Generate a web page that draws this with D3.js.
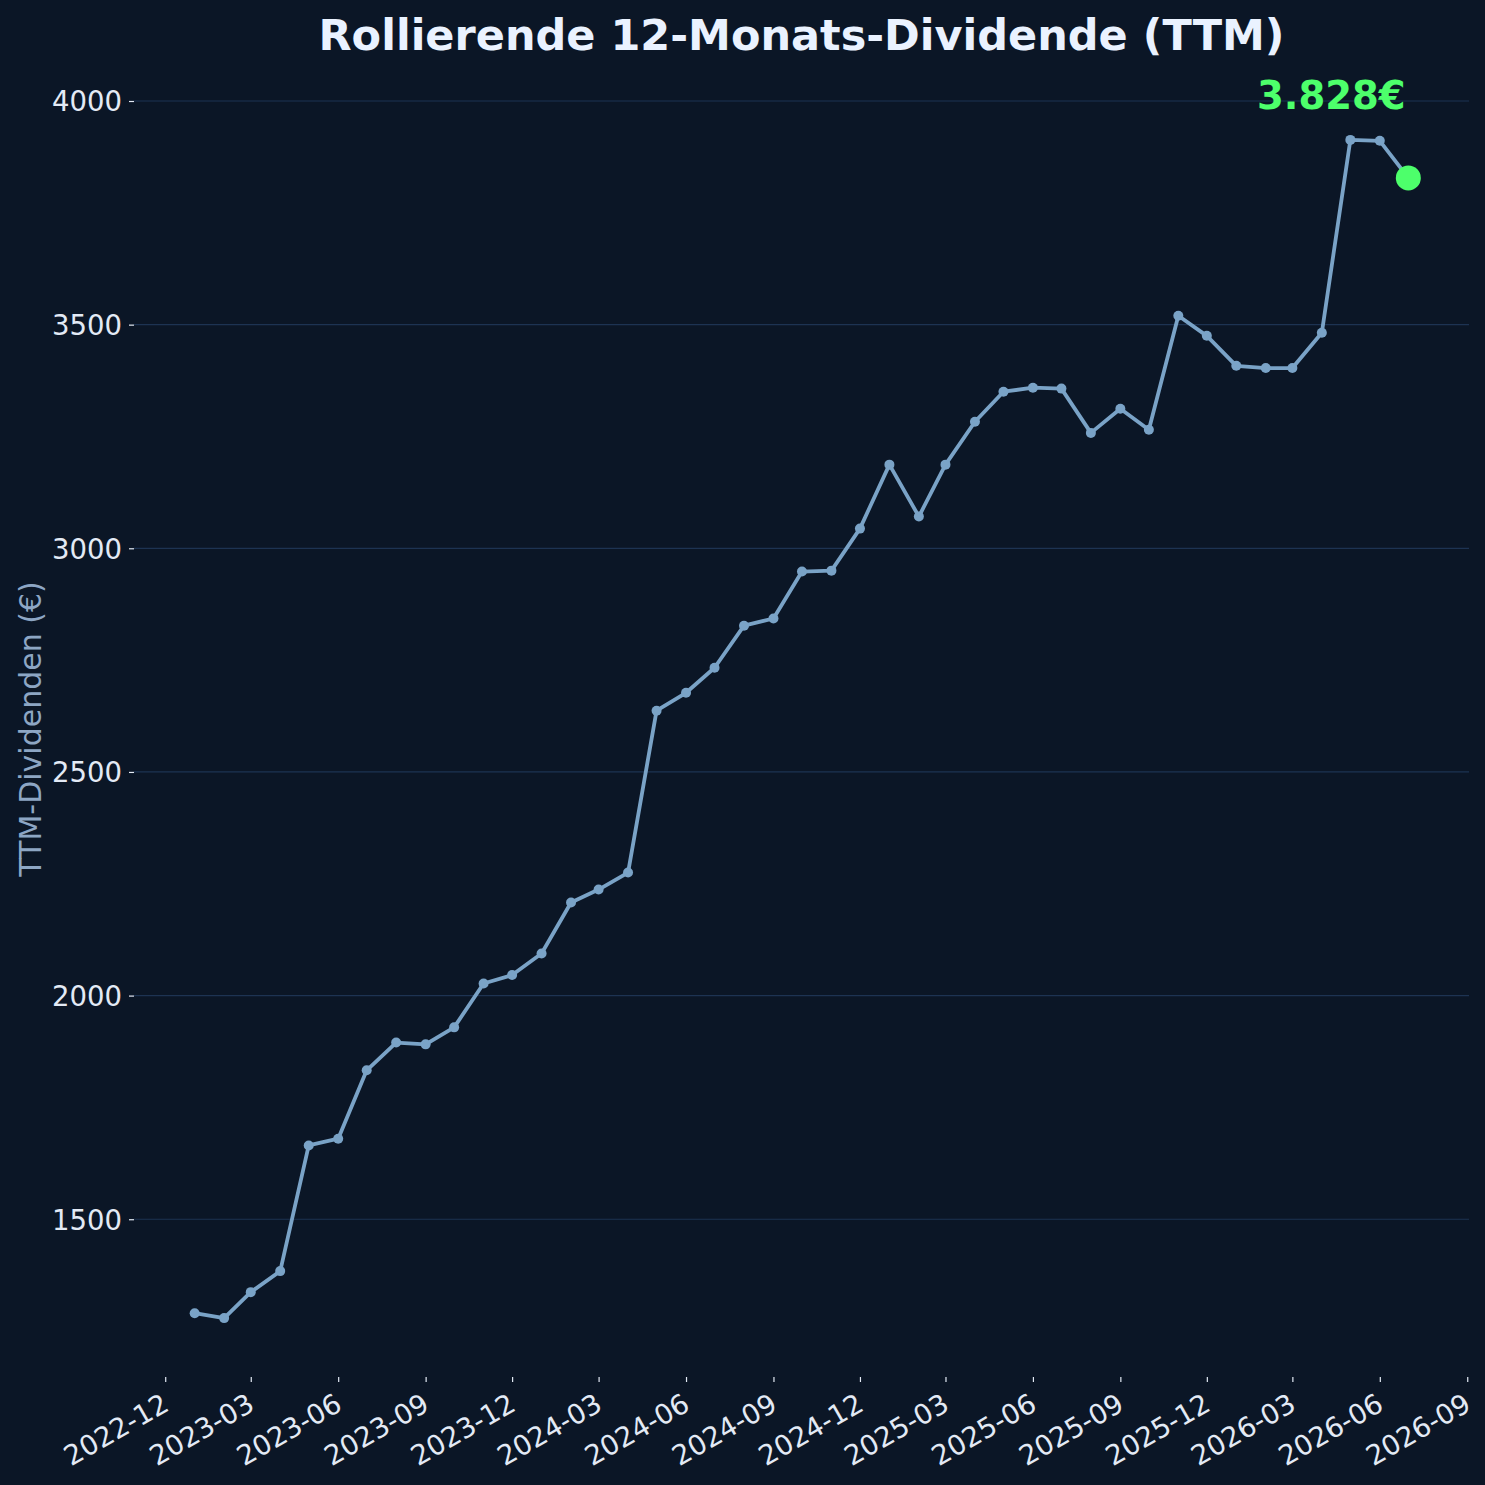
<!DOCTYPE html>
<html>
<head>
<meta charset="utf-8">
<script src="https://cdn.jsdelivr.net/npm/d3@7"></script>
<style>
    html, body { margin: 0; padding: 0; background: #0b1626; }
    svg { display: block; font-family: "DejaVu Sans", sans-serif; }
</style>
</head>
<body>
<div class="ttmChart"></div>
<script>
// Monthly TTM dividend values
const months = [
    '2023-01', '2023-02', '2023-03', '2023-04', '2023-05', '2023-06',
    '2023-07', '2023-08', '2023-09', '2023-10', '2023-11', '2023-12',
    '2024-01', '2024-02', '2024-03', '2024-04', '2024-05', '2024-06',
    '2024-07', '2024-08', '2024-09', '2024-10', '2024-11', '2024-12',
    '2025-01', '2025-02', '2025-03', '2025-04', '2025-05', '2025-06',
    '2025-07', '2025-08', '2025-09', '2025-10', '2025-11', '2025-12',
    '2026-01', '2026-02', '2026-03', '2026-04', '2026-05', '2026-06',
    '2026-07'
];
const ttmValues = [
    1290, 1279, 1337, 1384, 1665, 1680, 1833, 1895, 1891, 1929, 2027, 2046,
    2094, 2208, 2237, 2275, 2637, 2677, 2733, 2827, 2843, 2948, 2950, 3044,
    3187, 3071, 3187, 3283, 3350, 3359, 3357, 3258, 3312, 3265, 3520, 3475,
    3408, 3403, 3403, 3482, 3913, 3911, 3828
];
const yTicks = [1500, 2000, 2500, 3000, 3500, 4000];
const xTickLabels = [
    '2022-12', '2023-03', '2023-06', '2023-09', '2023-12', '2024-03', '2024-06',
    '2024-09', '2024-12', '2025-03', '2025-06', '2025-09', '2025-12', '2026-03',
    '2026-06', '2026-09'
];
const chartTitle = 'Rollierende 12-Monats-Dividende (TTM)';
const yLabel = 'TTM-Dividenden (€)';

function ttmChart(selector, w, h) {
    // Plot constants
    const margin = {top: 81, right: 16, bottom: 108, left: 134},
        width = w - margin.left - margin.right,
        height = h - margin.top - margin.bottom;
    const font = '"DejaVu Sans", sans-serif';

    const parseMonth = d3.timeParse('%Y-%m');
    const data = months.map((m, i) => ({date: parseMonth(m), value: ttmValues[i]}));

    // Matplotlib style 5% padding
    const [d0, d1] = d3.extent(data, d => d.date);
    const dPad = (d1 - d0) * 0.05;
    const [v0, v1] = d3.extent(data, d => d.value);
    const vPad = (v1 - v0) * 0.05;

    const x = d3.scaleTime()
        .domain([new Date(+d0 - dPad), new Date(+d1 + dPad)])
        .range([0, width]);
    const y = d3.scaleLinear()
        .domain([v0 - vPad, v1 + vPad])
        .range([height, 0]);

    const svg = d3.select(`.${selector}`)
        .append('svg')
            .attr('width', w)
            .attr('height', h);
    svg.append('rect')
        .attr('width', w)
        .attr('height', h)
        .attr('fill', '#0b1626');

    const g = svg.append('g')
        .attr('transform', `translate(${margin.left},${margin.top})`);

    // Horizontal grid
    g.append('g')
        .selectAll('line')
        .data(yTicks)
        .enter()
            .append('line')
            .attr('x1', 0)
            .attr('x2', width)
            .attr('y1', d => y(d))
            .attr('y2', d => y(d))
            .attr('stroke', '#1d3352')
            .attr('stroke-width', 1.2);

    // Y axis
    const yAxis = g.append('g')
        .call(d3.axisLeft(y).tickValues(yTicks).tickSize(5).tickPadding(7).tickFormat(d3.format('d')))
        .attr('font-family', font)
        .attr('font-size', null);
    yAxis.select('.domain').remove();
    yAxis.selectAll('line').attr('stroke', '#e3eaf5').attr('stroke-width', 1.2);
    yAxis.selectAll('text')
        .attr('fill', '#e3eaf5')
        .style('font-size', '27.5px')
        .attr('dy', '0.36em');

    // X axis
    const xTicks = xTickLabels.map(parseMonth);
    const xAxis = g.append('g')
        .attr('transform', `translate(0,${height})`)
        .call(d3.axisBottom(x).tickValues(xTicks).tickSize(5).tickFormat(d3.timeFormat('%Y-%m')))
        .attr('font-family', font)
        .attr('font-size', null);
    xAxis.select('.domain').remove();
    xAxis.selectAll('line').attr('stroke', '#e3eaf5').attr('stroke-width', 1.2);
    xAxis.selectAll('text')
        .attr('fill', '#e3eaf5')
        .style('font-size', '27.5px')
        .style('text-anchor', 'end')
        .attr('x', 0)
        .attr('y', 0)
        .attr('dy', '0.72em')
        .attr('transform', 'translate(-5,15) rotate(-30)');

    // The line
    const line = d3.line()
        .x(d => x(d.date))
        .y(d => y(d.value));
    g.append('path')
        .datum(data)
        .attr('d', line)
        .attr('fill', 'none')
        .attr('stroke', '#7aa3c7')
        .attr('stroke-width', 3.8)
        .attr('stroke-linejoin', 'round');

    // Dots
    g.selectAll('circle.pt')
        .data(data)
        .enter()
            .append('circle')
            .attr('class', 'pt')
            .attr('r', 5)
            .attr('cx', d => x(d.date))
            .attr('cy', d => y(d.value))
            .attr('fill', '#7aa3c7');

    // Highlight latest value
    const last = data[data.length - 1];
    const de = d3.formatLocale({decimal: ',', thousands: '.', grouping: [3], currency: ['', '€']});
    g.append('circle')
        .attr('r', 12.5)
        .attr('cx', x(last.date))
        .attr('cy', y(last.value))
        .attr('fill', '#4dff6b');
    g.append('text')
        .attr('x', x(last.date) - 77)
        .attr('y', y(last.value) - 69)
        .attr('text-anchor', 'middle')
        .attr('fill', '#4dff6b')
        .style('font-size', '38.5px')
        .style('font-weight', 'bold')
        .text(de.format(',.0f')(last.value) + '€');

    // Title
    svg.append('text')
        .attr('x', margin.left + width / 2)
        .attr('y', 50)
        .attr('text-anchor', 'middle')
        .attr('fill', '#eaf2ff')
        .style('font-size', '43px')
        .style('font-weight', 'bold')
        .text(chartTitle);

    // Y label
    svg.append('text')
        .attr('transform', `translate(41, ${margin.top + height / 2}) rotate(-90)`)
        .attr('text-anchor', 'middle')
        .attr('fill', '#8da6c4')
        .style('font-size', '30px')
        .text(yLabel);
}

ttmChart('ttmChart', 1485, 1485);
</script>
</body>
</html>
